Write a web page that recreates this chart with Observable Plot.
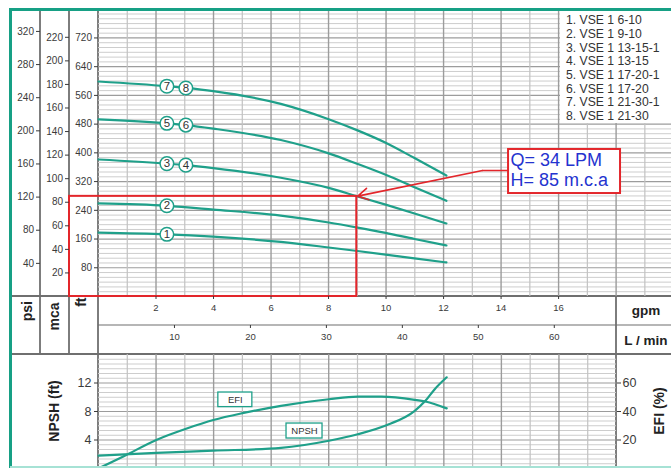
<!DOCTYPE html>
<html>
<head>
<meta charset="utf-8">
<script src="https://cdn.jsdelivr.net/npm/d3@7"></script>
<script src="https://cdn.jsdelivr.net/npm/@observablehq/plot@0.6"></script>
<style>
  html, body { margin: 0; padding: 0; background: #fff; }
  #chart { position: relative; width: 671px; height: 468px; overflow: hidden; background: #fff;
           font-family: "Liberation Sans", Arial, sans-serif; }
  #chart > svg, #chart > div { position: absolute; left: 0; }
  #legend { left: 560px !important; top: 11px; width: 111px; height: 112px; background: #fff;
            box-sizing: border-box; padding: 3.3px 0 0 6px; color: #333; font-size: 12.2px; line-height: 13.67px;
            white-space: nowrap; }
</style>
</head>
<body>
<div id="chart"></div>
<script>
// Unit conversions shared by the parallel axes
const LPM_PER_GPM = 3.78541;
const MCA_PER_FT = 0.3048;
const MCA_PER_PSI = 0.70307;
const EFI_PER_FT = 5;            // lower panel: 20 % efficiency sits on 4 ft NPSH

// Pump models (legend)
const modelNames = ["VSE 1 6-10", "VSE 1 9-10", "VSE 1 13-15-1", "VSE 1 13-15",
                    "VSE 1 17-20-1", "VSE 1 17-20", "VSE 1 21-30-1", "VSE 1 21-30"];

// Head curves: flow in L/min, head in m.c.a.
const flowLow  = [0, 9, 15.1, 24, 30.3, 34.1, 37.8, 41.6, 45.8];
const head1    = [54.3, 52.8, 50.8, 46.3, 41.6, 38.6, 35.6, 32.4, 28.9];
const head2    = [79.0, 77.0, 73.8, 68.6, 62.8, 58.5, 54.0, 48.8, 43.3];
const flowHigh = [0, 9, 11.5, 15.1, 24, 30.3, 34.1, 37.8, 41.6, 45.8];
const head34   = [116.3, 112.8, 111.5, 109.0, 100.8, 92.2, 85.0, 78.0, 70.5, 62.0];
const head56   = [150.3, 147.0, 145.5, 142.5, 132.8, 121.5, 112.5, 103.3, 92.8, 81.2];
const head78   = [182.5, 178.5, 177.0, 174.3, 163.5, 150.5, 141.0, 130.5, 117.5, 102.7];

// Numbered tags sitting on the curves
const tagLabels = ["1", "2", "3", "4", "5", "6", "7", "8"];
const tagFlow   = [9, 9, 9, 11.5, 9, 11.5, 9, 11.5];
const tagHead   = [52.8, 77.0, 112.8, 111.5, 147.0, 145.5, 178.5, 177.0];

// Duty point
const dutyFlow = 34;   // L/min
const dutyHead = 85;   // m.c.a.

// NPSH (ft) and efficiency (%) against flow (L/min)
const npshFlow = [0, 7.6, 15.1, 24, 30.3, 34.1, 38.2, 41.6, 43, 44.2, 45.8];
const npshFt   = [1.8, 2.2, 2.5, 2.9, 3.9, 4.8, 6.2, 8.1, 9.5, 11.1, 12.8];
const efiFlow  = [0, 3.4, 7.6, 11.8, 15.1, 19.1, 24, 30.3, 34.1, 37.2, 41.6, 43, 45.8];
const efiPct   = [0, 8.8, 20, 28.4, 34, 39, 44, 48.6, 50.4, 50.4, 48.2, 47, 42.2];

// Axis ticks
const psiTicks  = [40, 80, 120, 160, 200, 240, 280, 320];
const mcaTicks  = [20, 40, 60, 80, 100, 120, 140, 160, 180, 200, 220];
const ftTicks   = [80, 160, 240, 320, 400, 480, 560, 640, 720];
const gpmTicks  = [2, 4, 6, 8, 10, 12, 14, 16];
const lpmTicks  = [10, 20, 30, 40, 50, 60];
const npshTicks = [4, 8, 12];
const efiTicks  = [20, 40, 60];

const teal = "#1fa08a";
const red = "#e3262b";
const gridMinor = "#cdcdcd";
const gridMajor = "#9c9c9c";
const font = "'Liberation Sans', Arial, sans-serif";

const pumpRows = [
  ...flowLow.map((f, i) => ({curve: "1", flow: f, head: head1[i]})),
  ...flowLow.map((f, i) => ({curve: "2", flow: f, head: head2[i]})),
  ...flowHigh.map((f, i) => ({curve: "3-4", flow: f, head: head34[i]})),
  ...flowHigh.map((f, i) => ({curve: "5-6", flow: f, head: head56[i]})),
  ...flowHigh.map((f, i) => ({curve: "7-8", flow: f, head: head78[i]}))
];
const tags = tagLabels.map((t, i) => ({label: t, flow: tagFlow[i], head: tagHead[i]}));
const npshRows = npshFlow.map((f, i) => ({flow: f, ft: npshFt[i]}));
const efiRows = efiFlow.map((f, i) => ({flow: f, pct: efiPct[i]}));

const chart = document.getElementById("chart");

// ---------- frame, column dividers and axis titles ----------
const frame = d3.create("svg").attr("width", 671).attr("height", 468).style("top", "0px");
const frameLines = [
  [40, 9, 40, 354, 1.8], [69, 9, 69, 354, 1.8], [98, 9, 98, 468, 1.8],
  [10, 296, 671, 296, 2], [98, 325, 671, 325, 1.2], [10, 354, 671, 354, 2],
  [616, 296, 616, 468, 1.8]
];
frame.selectAll("line").data(frameLines).join("line")
  .attr("x1", d => d[0]).attr("y1", d => d[1]).attr("x2", d => d[2]).attr("y2", d => d[3])
  .attr("stroke", "#6f6f6f").attr("stroke-width", d => d[4]);

const vTitles = [
  {text: "psi", x: 27, y: 301, anchor: "end"},
  {text: "mca", x: 53.5, y: 302.5, anchor: "end"},
  {text: "ft", x: 81, y: 297.5, anchor: "end"},
  {text: "NPSH (ft)", x: 53.5, y: 411, anchor: "middle"},
  {text: "EFI (%)", x: 659, y: 411, anchor: "middle"}
];
frame.selectAll("text.v").data(vTitles).join("text")
  .attr("transform", d => `translate(${d.x},${d.y}) rotate(-90)`)
  .attr("text-anchor", d => d.anchor).attr("dominant-baseline", "central")
  .attr("font-family", font).attr("font-weight", "bold").attr("font-size", 14).attr("fill", "#222")
  .text(d => d.text);
frame.selectAll("text.h").data([{text: "gpm", y: 310}, {text: "L / min", y: 340}]).join("text")
  .attr("x", 646).attr("y", d => d.y).attr("text-anchor", "middle").attr("dominant-baseline", "central")
  .attr("font-family", font).attr("font-weight", "bold").attr("font-size", 13.5).attr("fill", "#222")
  .text(d => d.text);
chart.appendChild(frame.node());

// ---------- performance curves ----------
const ftGridMinor = d3.range(1, 60).map(i => i * 80 / 6).filter(f => f % 80 !== 0);
const ftGridMajor = d3.range(80, 800, 80);
const gpmGrid = d3.range(1, 20);

const topPlot = Plot.plot({
  width: 671, height: 354,
  marginTop: 9, marginBottom: 58, marginLeft: 98, marginRight: 0,
  x: {domain: [0, 75.43], label: null},
  y: {domain: [0, 243.6], label: null},
  style: {fontFamily: font, fontSize: "10px", color: "#3a3a3a", background: "transparent", overflow: "visible"},
  marks: [
    Plot.ruleY(ftGridMinor.map(f => f * MCA_PER_FT), {stroke: gridMinor, strokeWidth: 1}),
    Plot.ruleY(ftGridMajor.map(f => f * MCA_PER_FT), {stroke: gridMajor, strokeWidth: 1.2}),
    Plot.ruleX(gpmGrid.filter(g => g % 2).map(g => g * LPM_PER_GPM), {stroke: "#c2c2c2", strokeWidth: 1.2}),
    Plot.ruleX(gpmGrid.filter(g => !(g % 2)).map(g => g * LPM_PER_GPM), {stroke: gridMajor, strokeWidth: 1.4}),
    Plot.line(pumpRows, {x: "flow", y: "head", z: "curve", stroke: teal, strokeWidth: 2.2, curve: "monotone-x"}),
    Plot.dot(tags, {x: "flow", y: "head", r: 6.8, fill: "white", stroke: teal, strokeWidth: 1.5}),
    Plot.text(tags, {x: "flow", y: "head", text: "label", fontSize: 11.5, fill: "#333"}),
    // duty point box: from the m.c.a. column down to zero head
    Plot.rect([{q: dutyFlow, h: dutyHead}], {x1: 0, x2: "q", y1: 0, y2: "h", insetLeft: -29,
      fill: "none", stroke: red, strokeWidth: 2}),
    // callout
    Plot.line([[53.98, 107], [50.55, 107]], {stroke: red, strokeWidth: 1.6}),
    Plot.arrow([{q: dutyFlow, h: dutyHead}], {x1: () => 50.55, y1: () => 107, x2: "q", y2: "h",
      stroke: red, strokeWidth: 1.6, headLength: 11, insetEnd: 1}),
    Plot.rect([0], {x1: 53.98, x2: 68.72, y1: 87.4, y2: 124.8, fill: "white", stroke: red, strokeWidth: 2}),
    Plot.text([`Q= ${dutyFlow} LPM`, `H= ${dutyHead} m.c.a`], {
      x: () => 53.98, y: (d, i) => [115.4, 98.5][i], text: d => d, dx: 2,
      textAnchor: "start", fontSize: 18, fill: "#2433cf"}),
    // parallel head axes
    Plot.axisY(ftTicks.map(f => f * MCA_PER_FT), {anchor: "left", tickSize: 4, tickPadding: 2.5,
      tickFormat: d => Math.round(d / MCA_PER_FT), fontSize: 10, label: null}),
    Plot.axisY(mcaTicks, {anchor: "left", dx: -29, tickSize: 4, tickPadding: 2.5,
      fontSize: 10, label: null}),
    Plot.axisY(psiTicks.map(p => p * MCA_PER_PSI), {anchor: "left", dx: -58, tickSize: 4, tickPadding: 2.5,
      tickFormat: d => Math.round(d / MCA_PER_PSI), fontSize: 10, label: null}),
    // flow axes
    Plot.axisX(gpmTicks.map(g => g * LPM_PER_GPM), {anchor: "bottom", tickSize: 3, tickPadding: 5,
      tickFormat: d => Math.round(d / LPM_PER_GPM), fontSize: 9.5, label: null}),
    Plot.axisX(lpmTicks, {anchor: "bottom", dy: 29, tickSize: 3, tickPadding: 5,
      fontSize: 9.5, label: null})
  ]
});
topPlot.style.top = "0px";
chart.appendChild(topPlot);

// ---------- NPSH and efficiency ----------
const npshGridMinor = d3.range(1, 24).map(i => i * 2 / 3).filter((v, i) => (i + 1) % 6 !== 0);
const bottomPlot = Plot.plot({
  width: 671, height: 114,
  marginTop: 0, marginBottom: 0, marginLeft: 98, marginRight: 55,
  x: {domain: [0, 18 * LPM_PER_GPM], label: null, axis: null},
  y: {domain: [0, 16], label: null},
  style: {fontFamily: font, fontSize: "12px", color: "#3a3a3a", background: "transparent", overflow: "visible"},
  marks: [
    Plot.ruleY(npshGridMinor, {stroke: gridMinor, strokeWidth: 1}),
    Plot.ruleY(npshTicks, {stroke: gridMajor, strokeWidth: 1.2}),
    Plot.ruleX(d3.range(1, 18).filter(g => g % 2).map(g => g * LPM_PER_GPM), {stroke: "#c2c2c2", strokeWidth: 1.2}),
    Plot.ruleX(d3.range(1, 18).filter(g => !(g % 2)).map(g => g * LPM_PER_GPM), {stroke: gridMajor, strokeWidth: 1.4}),
    Plot.line(efiRows, {x: "flow", y: d => d.pct / EFI_PER_FT, stroke: teal, strokeWidth: 2.2, curve: "monotone-x"}),
    Plot.line(npshRows, {x: "flow", y: "ft", stroke: teal, strokeWidth: 2.2, curve: "monotone-x"}),
    Plot.rect([{q: 18.0, v: 9.64}], {x1: "q", x2: "q", y1: "v", y2: "v",
      insetLeft: -17, insetRight: -17, insetTop: -7.3, insetBottom: -7.3, fill: "white", stroke: teal, strokeWidth: 1.3}),
    Plot.text([{q: 18.0, v: 9.64}], {x: "q", y: "v", text: () => "EFI", fontSize: 9.5, fill: "#333"}),
    Plot.rect([{q: 27.1, v: 5.26}], {x1: "q", x2: "q", y1: "v", y2: "v",
      insetLeft: -18, insetRight: -18, insetTop: -7.5, insetBottom: -7.5, fill: "white", stroke: teal, strokeWidth: 1.3}),
    Plot.text([{q: 27.1, v: 5.26}], {x: "q", y: "v", text: () => "NPSH", fontSize: 9.5, fill: "#333"}),
    Plot.axisY(npshTicks, {anchor: "left", tickSize: 4, tickPadding: 3, fontSize: 12.5, label: null}),
    Plot.axisY(efiTicks.map(e => e / EFI_PER_FT), {anchor: "right", tickSize: 4, tickPadding: 2,
      tickFormat: d => Math.round(d * EFI_PER_FT), fontSize: 12.5, label: null})
  ]
});
bottomPlot.style.top = "354px";
chart.appendChild(bottomPlot);

// ---------- model legend ----------
const legend = document.createElement("div");
legend.id = "legend";
legend.innerHTML = modelNames.map((m, i) => `<div>${i + 1}. ${m}</div>`).join("");
chart.appendChild(legend);

// ---------- outer border ----------
const border = d3.create("svg").attr("width", 671).attr("height", 468).style("top", "0px")
  .style("pointer-events", "none");
border.append("line").attr("x1", 9).attr("y1", 9.5).attr("x2", 671).attr("y2", 9.5)
  .attr("stroke", "#17a085").attr("stroke-width", 3);
border.append("line").attr("x1", 10.5).attr("y1", 8).attr("x2", 10.5).attr("y2", 468)
  .attr("stroke", "#17a085").attr("stroke-width", 3);
border.append("line").attr("x1", 10).attr("y1", 467).attr("x2", 671).attr("y2", 467)
  .attr("stroke", "#a6e2d5").attr("stroke-width", 2);
chart.appendChild(border.node());
</script>
</body>
</html>
